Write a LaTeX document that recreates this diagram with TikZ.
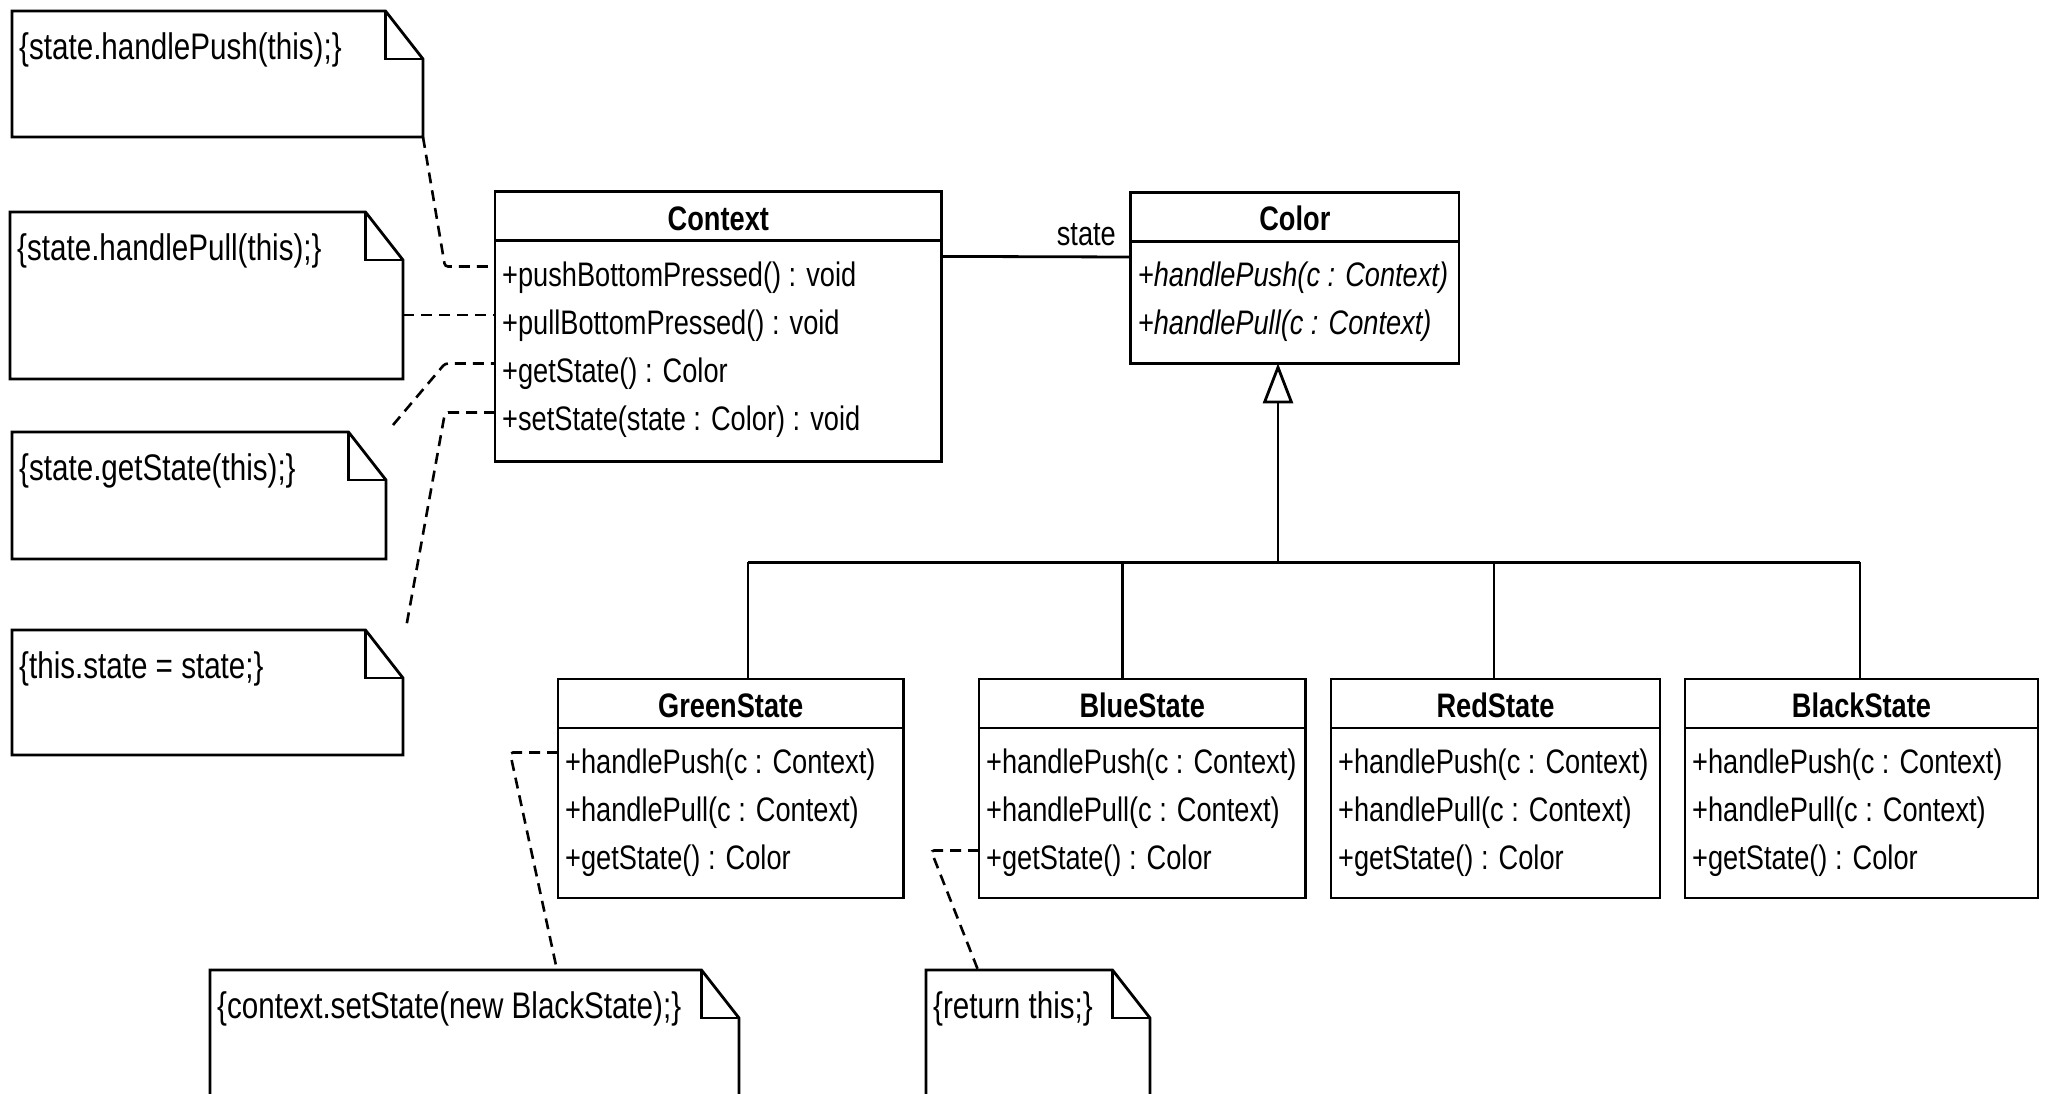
\documentclass[tikz,border=0pt]{standalone}
\usepackage{fontspec}
\setmainfont{Liberation Sans}[FakeStretch=0.8]
\usetikzlibrary{arrows.meta}

% class box: name, left, top, right, bottom, title
\newcommand\umlclass[6]{%
  \node[box, minimum width={(#4-#2)*1pt}, minimum height={(#5-#3)*1pt}] (#1) at ({(#2+#4)/2},{(#3+#5)/2}) {};
  \draw[solid line] (#2,{#3+49}) -- (#4,{#3+49});
  \node[ctitle] at ({(#2+#4)/2},{#3+38.3}) {#6};
}
% operation row: left, top, index, text
\newcommand\crow[4]{\node[ctext] at ({#1+7},{#2+94.3+48.3*#3}) {#4};}
% note with folded corner: name, left, top, right, bottom, text
\newcommand\umlnote[6]{%
  \node[inner sep=0pt, outer sep=0pt, minimum width={(#4-#2)*1pt}, minimum height={(#5-#3)*1pt}] (#1) at ({(#2+#4)/2},{(#3+#5)/2}) {};
  \draw[notepath] (#2,#3) -- ({#4-37.5},#3) -- (#4,{#3+48}) -- (#4,#5) -- (#2,#5) -- cycle;
  \draw[notepath] ({#4-37.5},#3) -- ({#4-37.5},{#3+48}) -- (#4,{#3+48});
  \node[ntext] at ({#2+7},{#3+48}) {#6};
}

\begin{document}
\begin{tikzpicture}[x=1pt,y=-1pt,
  box/.style={draw, line width=2.8pt, inner sep=0pt, outer sep=0pt},
  solid line/.style={line width=2.8pt},
  notepath/.style={line width=2.8pt},
  ctext/.style={anchor=base west, inner sep=0pt, font=\fontsize{34}{40}\selectfont},
  ctitle/.style={anchor=base, inner sep=0pt, font=\fontsize{34}{40}\selectfont\bfseries},
  ntext/.style={anchor=base west, inner sep=0pt, font=\fontsize{37}{44}\selectfont},
  link/.style={line width=2.6pt, dash pattern=on 11pt off 7pt, rounded corners=3pt}
]
\useasboundingbox (0,0) rectangle (2047,1093);
\clip (0,0) rectangle (2047,1093);

% --- classes ---
\umlclass{ctx}{495}{191.7}{941.7}{461.7}{Context}
\crow{495}{191.7}{0}{+pushBottomPressed() : void}
\crow{495}{191.7}{1}{+pullBottomPressed() : void}
\crow{495}{191.7}{2}{+getState() : Color}
\crow{495}{191.7}{3}{+setState(state : Color) : void}

\umlclass{clr}{1130.7}{192.3}{1459}{363.3}{Color}
\crow{1130.7}{192.3}{0}{\itshape +handlePush(c : Context)}
\crow{1130.7}{192.3}{1}{\itshape +handlePull(c : Context)}

\umlclass{gs}{558}{679}{903.5}{898}{GreenState}
\crow{558}{679}{0}{+handlePush(c : Context)}
\crow{558}{679}{1}{+handlePull(c : Context)}
\crow{558}{679}{2}{+getState() : Color}

\umlclass{bs}{979}{679}{1305.5}{898}{BlueState}
\crow{979}{679}{0}{+handlePush(c : Context)}
\crow{979}{679}{1}{+handlePull(c : Context)}
\crow{979}{679}{2}{+getState() : Color}

\umlclass{rs}{1331}{679}{1660}{898}{RedState}
\crow{1331}{679}{0}{+handlePush(c : Context)}
\crow{1331}{679}{1}{+handlePull(c : Context)}
\crow{1331}{679}{2}{+getState() : Color}

\umlclass{bk}{1685}{679}{2038}{898}{BlackState}
\crow{1685}{679}{0}{+handlePush(c : Context)}
\crow{1685}{679}{1}{+handlePull(c : Context)}
\crow{1685}{679}{2}{+getState() : Color}

% --- notes ---
\umlnote{n1}{12}{11}{423}{137}{\{state.handlePush(this);\}}
\umlnote{n2}{10}{212}{403}{379}{\{state.handlePull(this);\}}
\umlnote{n3}{12}{432}{386}{559}{\{state.getState(this);\}}
\umlnote{n4}{12}{630}{403}{755}{\{this.state = state;\}}
\umlnote{n5}{210}{970}{739}{1140}{\{context.setState(new BlackState);\}}
\umlnote{n6}{926}{970}{1150}{1140}{\{return this;\}}

% --- association ---
\draw[solid line] ([yshift=-64.7pt]ctx.north east) -- ([yshift=-64.7pt]clr.north west)
  node[pos=1, anchor=base east, inner sep=0pt, xshift=-13.5pt, yshift=11.7pt,
       font=\fontsize{34}{40}\selectfont] {state};

% --- generalization ---
\coordinate (bus) at (1278,562.3);
\coordinate (gsd) at (748,562.3);
\coordinate (bsd) at (1122.7,562.3);
\coordinate (rsd) at (1494,562.3);
\coordinate (bkd) at (1860,562.3);
\draw[solid line] (gsd) -- (bkd);
\draw[solid line] (gsd) -- (gsd |- gs.north);
\draw[solid line] (bsd) -- (bsd |- bs.north);
\draw[solid line] (rsd) -- (rsd |- rs.north);
\draw[solid line] (bkd) -- (bkd |- bk.north);
\draw[solid line, -{Triangle[open, length=40pt, width=30pt]}] (bus) -- (bus |- clr.south);

% --- note attachments ---
\coordinate (c1) at (445,266.5);
\draw[link] (n1.south east) -- (c1) -- (c1 -| ctx.west);
\coordinate (c2) at (403,315);
\draw[link] (c2) -- (c2 -| ctx.west);
\coordinate (c3a) at (393,425);
\coordinate (c3b) at (445,363.5);
\draw[link] (c3a) -- (c3b) -- (c3b -| ctx.west);
\coordinate (c4a) at (406,628);
\coordinate (c4b) at (445,412.5);
\draw[link] (c4b -| ctx.west) -- (c4b) -- (c4a);
\coordinate (c5a) at (557,970);
\coordinate (c5b) at (510,752.5);
\draw[link] (c5b -| gs.west) -- (c5b) -- (c5a |- n5.north);
\coordinate (c6a) at (978,970);
\coordinate (c6b) at (931,850.5);
\draw[link] (c6b -| bs.west) -- (c6b) -- (c6a |- n6.north);
\end{tikzpicture}
\end{document}
